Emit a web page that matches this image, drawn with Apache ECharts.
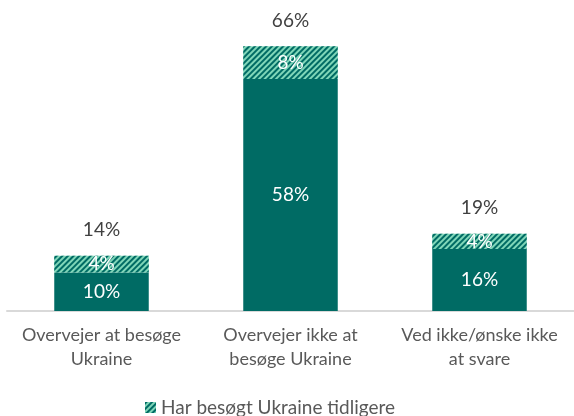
<!DOCTYPE html>
<html>
<head>
<meta charset="utf-8">
<script src="https://cdn.jsdelivr.net/npm/echarts@6/dist/echarts.min.js"></script>
<style>
  html, body { margin: 0; padding: 0; background: #fff; }
  #chart { width: 574px; height: 416px; }
</style>
</head>
<body>
<div id="chart"></div>
<script>
// Data
var categories = ['Overvejer at besøge\nUkraine', 'Overvejer ikke at\nbesøge Ukraine', 'Ved ikke/ønske ikke\nat svare'];
var notVisited = [9.6, 58, 15.5];
var visited = [4.2, 8.2, 3.8];
var visitedName = 'Har besøgt Ukraine tidligere';

var totals = notVisited.map(function (v, i) { return v + visited[i]; });

var fontFamily = 'Lato, "Open Sans", sans-serif';

var myChart = echarts.init(document.getElementById('chart'));

var option = {
  animation: false,
  textStyle: { fontFamily: fontFamily },
  grid: { left: 7, right: 0, top: 31, bottom: 105 },
  legend: {
    data: [visitedName],
    left: 140,
    top: 393,
    itemWidth: 11,
    itemHeight: 11,
    itemGap: 4,
    icon: 'rect',
    textStyle: { color: '#595959', fontSize: 19, fontFamily: fontFamily }
  },
  xAxis: {
    type: 'category',
    data: categories,
    axisLine: { lineStyle: { color: '#d9d9d9', width: 2 } },
    axisTick: { show: false },
    axisLabel: {
      color: '#595959',
      fontSize: 18,
      lineHeight: 24,
      margin: 12,
      interval: 0
    }
  },
  yAxis: {
    type: 'value',
    min: 0,
    max: 70,
    show: false,
    splitLine: { show: false }
  },
  series: [
    {
      name: 'Har ikke besøgt',
      type: 'bar',
      stack: 'total',
      barWidth: '50%',
      data: notVisited,
      itemStyle: { color: '#006b64' },
      label: {
        show: true,
        position: 'inside',
        color: '#ffffff',
        fontSize: 19,
        fontFamily: fontFamily,
        formatter: function (p) { return Math.round(p.value) + '%'; }
      }
    },
    {
      name: visitedName,
      type: 'bar',
      stack: 'total',
      barWidth: '50%',
      data: visited,
      itemStyle: {
        color: '#7fd6b8',
        decal: {
          symbol: 'rect',
          symbolSize: 1,
          color: '#006b64',
          dashArrayX: [1, 0],
          dashArrayY: [2, 2],
          rotation: -Math.PI / 4
        }
      },
      label: {
        show: true,
        position: 'inside',
        color: '#ffffff',
        fontSize: 19,
        fontFamily: fontFamily,
        formatter: function (p) { return Math.round(p.value) + '%'; }
      }
    },
    {
      name: 'Total',
      type: 'bar',
      stack: 'total',
      barWidth: '50%',
      data: totals.map(function () { return 0; }),
      itemStyle: { color: 'transparent' },
      label: {
        show: true,
        position: 'top',
        distance: 16,
        color: '#404040',
        fontSize: 19,
        fontFamily: fontFamily,
        formatter: function (p) { return Math.round(totals[p.dataIndex]) + '%'; }
      }
    }
  ]
};

myChart.setOption(option);
</script>
</body>
</html>
